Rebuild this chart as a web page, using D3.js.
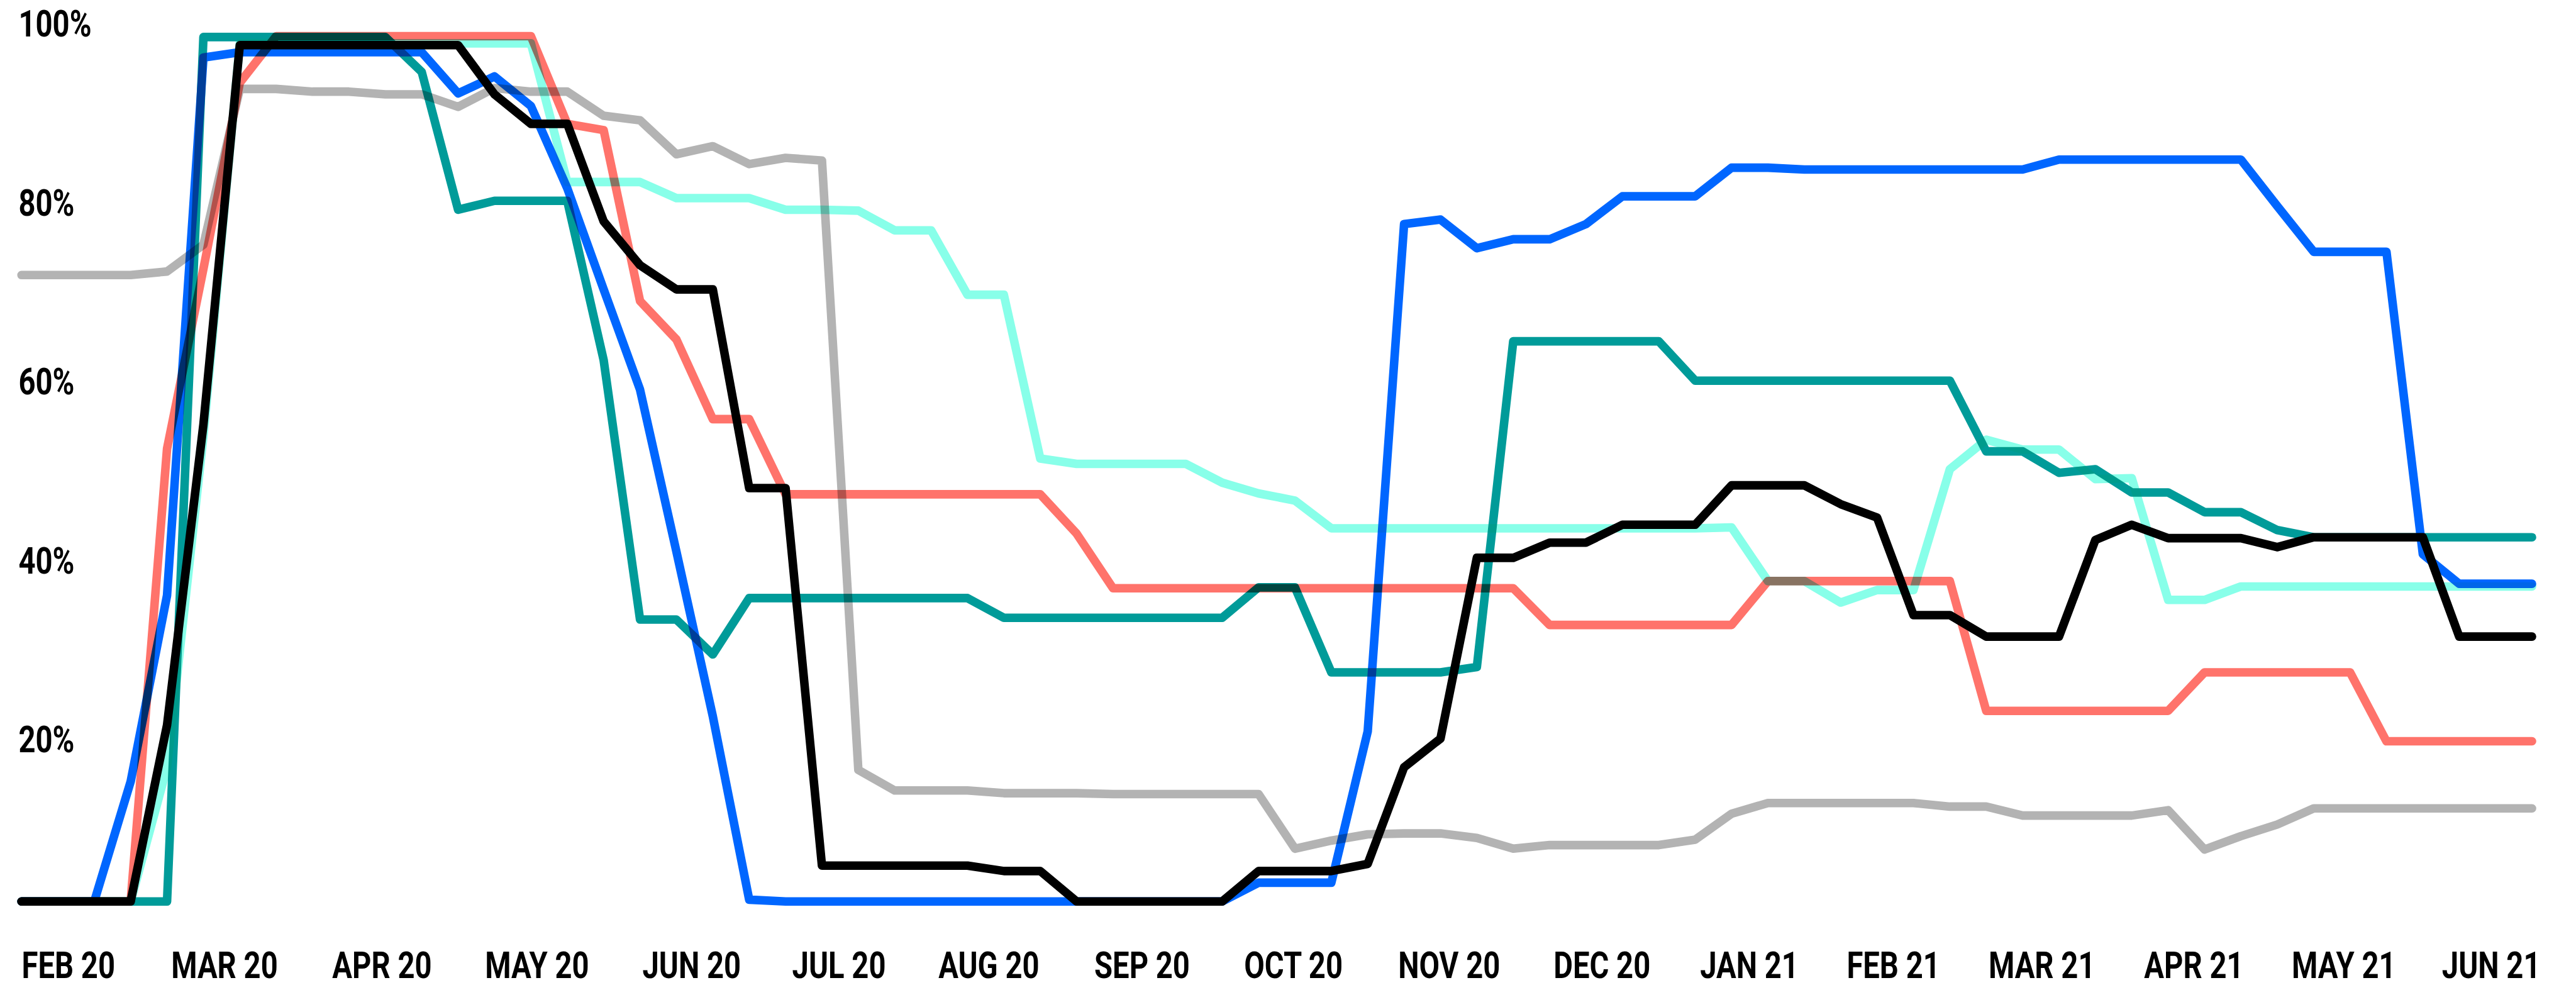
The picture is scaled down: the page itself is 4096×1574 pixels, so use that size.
<!DOCTYPE html>
<html><head><meta charset="utf-8">
<script src="https://cdn.jsdelivr.net/npm/d3@7"></script>
<style>html,body{margin:0;padding:0;background:#fff;} svg{display:block;background:#fff;}</style>
</head><body>
<svg id="chart" width="4096" height="1574"></svg>
<script>
// ---- data (weekly points, index 0..69) ----
const months = ["FEB 20","MAR 20","APR 20","MAY 20","JUN 20","JUL 20","AUG 20","SEP 20","OCT 20","NOV 20","DEC 20","JAN 21","FEB 21","MAR 21","APR 21","MAY 21","JUN 21"];
const monthPos = [1.28,5.57,9.90,14.16,18.41,22.46,26.58,30.79,34.95,39.23,43.43,47.48,51.44,55.52,59.70,63.82,67.87];
const yTicks = [100,80,60,40,20];

const gray = [73.3,73.3,73.3,73.3,73.7,76.7,94.1,94.1,93.8,93.8, 93.5,93.5,92.1,94.2,93.8,93.8,91.1,90.6,86.8,87.7, 85.7,86.4,86.1,18.0,15.7,15.7,15.7,15.4,15.4,15.4, 15.3,15.3,15.3,15.3,15.3,9.2,10.1,10.8,10.9,10.9, 10.4,9.2,9.6,9.6,9.6,9.6,10.2,13.1,14.3,14.3, 14.3,14.3,14.3,13.9,13.9,12.9,12.9,12.9,12.9,13.5, 9.1,10.6,11.9,13.7,13.7,13.7,13.7,13.7,13.7,13.7];
const aqua = [3.3,3.3,3.3,3.3,18.3,55.3,99.2,99.2,99.2,99.2, 99.2,99.2,99.2,99.2,99.2,83.7,83.7,83.7,81.9,81.9, 81.9,80.6,80.6,80.5,78.3,78.3,71.1,71.1,52.8,52.2, 52.2,52.2,52.2,50.1,48.9,48.1,45.0,45.0,45.0,45.0, 45.0,45.0,45.0,45.0,45.0,45.0,45.0,45.1,39.1,39.1, 36.7,38.1,38.1,51.6,54.9,53.8,53.8,50.5,50.6,37.0, 37.0,38.5,38.5,38.5,38.5,38.5,38.5,38.5,38.5,38.5];
const red = [3.3,3.3,3.3,3.3,53.9,74.0,94.8,100,100,100, 100,100,100,100,100,90.2,89.5,70.4,66.1,57.2, 57.2,48.8,48.8,48.8,48.8,48.8,48.8,48.8,48.8,44.4, 38.3,38.3,38.3,38.3,38.3,38.3,38.3,38.3,38.3,38.3, 38.3,38.3,34.2,34.2,34.2,34.2,34.2,34.2,39.1,39.1, 39.1,39.1,39.1,39.1,24.6,24.6,24.6,24.6,24.6,24.6, 28.9,28.9,28.9,28.9,28.9,21.2,21.2,21.2,21.2,21.2];
const teal = [3.3,3.3,3.3,3.3,3.3,99.9,99.9,99.9,99.9,99.9, 99.9,96.0,80.6,81.6,81.6,81.6,63.8,34.8,34.8,30.9, 37.2,37.2,37.2,37.2,37.2,37.2,37.2,35.0,35.0,35.0, 35.0,35.0,35.0,35.0,38.4,38.4,28.9,28.9,28.9,28.9, 29.5,65.9,65.9,65.9,65.9,65.9,61.5,61.5,61.5,61.5, 61.5,61.5,61.5,61.5,53.6,53.6,51.2,51.6,49.0,49.0, 46.8,46.8,44.8,44.0,44.0,44.0,44.0,44.0,44.0,44.0];
const blue = [3.3,3.3,3.3,16.7,37.5,97.6,98.2,98.2,98.2,98.2, 98.2,98.2,93.6,95.5,92.2,83.0,71.7,60.5,42.4,24.0, 3.5,3.3,3.3,3.3,3.3,3.3,3.3,3.3,3.3,3.3, 3.3,3.3,3.3,3.3,5.4,5.4,5.4,22.3,79.0,79.5, 76.3,77.3,77.3,79.0,82.1,82.1,82.1,85.3,85.3,85.1, 85.1,85.1,85.1,85.1,85.1,85.1,86.2,86.2,86.2,86.2, 86.2,86.2,81.0,75.9,75.9,75.9,42.1,38.8,38.8,38.8];
const black = [3.3,3.3,3.3,3.3,23.0,56.6,99.0,99.0,99.0,99.0, 99.0,99.0,99.0,93.5,90.2,90.2,79.3,74.4,71.7,71.7, 49.5,49.5,7.3,7.3,7.3,7.3,7.3,6.7,6.7,3.3, 3.3,3.3,3.3,3.3,6.7,6.7,6.7,7.5,18.3,21.5, 41.7,41.7,43.4,43.4,45.4,45.4,45.4,49.8,49.8,49.8, 47.7,46.2,35.3,35.3,32.9,32.9,32.9,43.7,45.4,43.9, 43.9,43.9,42.9,44.0,44.0,44.0,44.0,32.9,32.9,32.9];

const series = [
  {name:"gray",  values: gray,  color:"#b3b3b3"},
  {name:"aqua",  values: aqua,  color:"#88ffe9"},
  {name:"red",   values: red,   color:"#ff736b"},
  {name:"teal",  values: teal,  color:"#009b99"},
  {name:"blue",  values: blue,  color:"#0066ff"},
  {name:"black", values: black, color:"#000000"}
];

// ---- layout ----
const S = 0.684;
const svg = d3.select("#chart");
const x = d3.scaleLinear().domain([0, 69]).range([50*S, 5886*S]);
const y = d3.scaleLinear().domain([0, 100]).range([2164*S, 84*S]);

const line = d3.line().x((d,i)=>x(i)).y(d=>y(d));

svg.append("g").selectAll("path").data(series).join("path")
  .attr("d", d => line(d.values))
  .attr("fill","none")
  .attr("stroke", d => d.color)
  .attr("stroke-width", 13.6)
  .attr("stroke-linejoin","round")
  .attr("stroke-linecap","round")
  .style("mix-blend-mode","multiply");

const FONT = "Roboto, 'DejaVu Sans', sans-serif";
const condense = 0.80;

// y axis
const gy = svg.append("g")
  .call(d3.axisLeft(y).tickValues(yTicks).tickFormat(d => d + "%").tickSize(0));
gy.select(".domain").remove();
gy.selectAll("line").remove();
gy.selectAll("text")
  .attr("x", 43*S).attr("dy", 0).attr("text-anchor","start")
  .attr("fill","#000")
  .style("font-family", FONT).style("font-weight", 700).style("font-size","59px");

// x axis
const gx = svg.append("g").attr("transform", `translate(0,1555)`)
  .call(d3.axisBottom(x).tickValues(monthPos).tickFormat((d,i) => months[i]).tickSize(0));
gx.select(".domain").remove();
gx.selectAll("line").remove();
gx.selectAll("text")
  .attr("y", 0).attr("dy", 0).attr("text-anchor","middle")
  .attr("fill","#000")
  .style("font-family", FONT).style("font-weight", 700).style("font-size","59px");

svg.selectAll("g.tick text").each(function(){
  const w = this.getComputedTextLength();
  d3.select(this).attr("textLength", w*condense).attr("lengthAdjust","spacingAndGlyphs");
});
</script>
</body></html>
